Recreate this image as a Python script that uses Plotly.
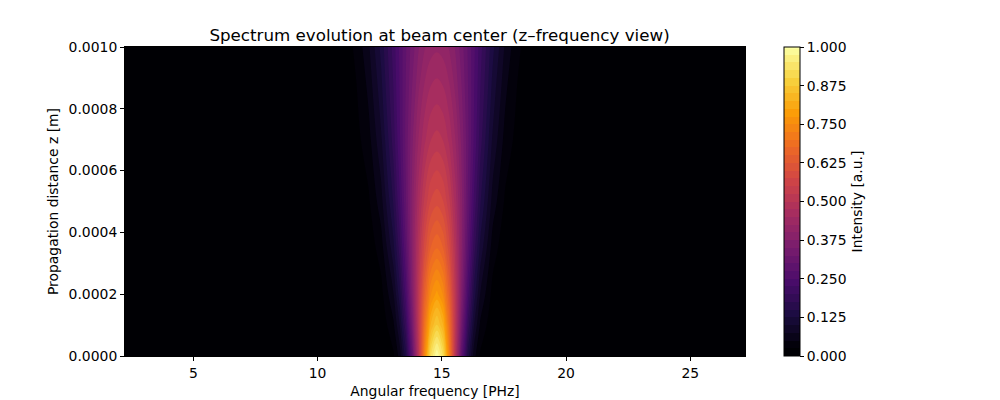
import plotly.graph_objects as go

# angular frequency samples [PHz] (spectrum centred near 14.8)
omega = [2.25, 10.55, 11.05, 11.55, 12.05, 12.55, 13.05, 13.3, 13.55, 13.8, 14.05, 14.3, 14.55,
         14.8, 15.05, 15.3, 15.55, 15.8, 16.05, 16.3, 16.55, 17.05, 17.55, 18.05, 18.55, 19.05, 27.2]

# propagation distance samples [m]
z_pos = [0.0, 0.0001, 0.0002, 0.00035, 0.0005, 0.0007, 0.001]

# intensity, one row per z sample
row_z000 = [0, 0, 0, 0, 0, 0.002, 0.021, 0.059, 0.140, 0.284, 0.492, 0.730, 0.924, 1.0,
            0.924, 0.730, 0.492, 0.284, 0.140, 0.059, 0.021, 0.002, 0, 0, 0, 0, 0]
row_z010 = [0, 0, 0, 0, 0.001, 0.006, 0.045, 0.099, 0.192, 0.332, 0.509, 0.689, 0.827, 0.879,
            0.827, 0.689, 0.509, 0.332, 0.192, 0.099, 0.045, 0.006, 0.001, 0, 0, 0, 0]
row_z020 = [0, 0, 0, 0, 0.002, 0.016, 0.073, 0.138, 0.234, 0.362, 0.507, 0.646, 0.747, 0.784,
            0.747, 0.646, 0.507, 0.362, 0.234, 0.138, 0.073, 0.016, 0.002, 0, 0, 0, 0]
row_z035 = [0, 0, 0, 0.002, 0.009, 0.037, 0.117, 0.186, 0.275, 0.380, 0.488, 0.584, 0.650, 0.674,
            0.650, 0.584, 0.488, 0.380, 0.275, 0.186, 0.117, 0.037, 0.009, 0.002, 0, 0, 0]
row_z050 = [0, 0, 0.001, 0.006, 0.021, 0.064, 0.153, 0.220, 0.297, 0.381, 0.462, 0.530, 0.576, 0.592,
            0.576, 0.530, 0.462, 0.381, 0.297, 0.220, 0.153, 0.064, 0.021, 0.006, 0.001, 0, 0]
row_z070 = [0, 0.001, 0.005, 0.016, 0.040, 0.095, 0.186, 0.245, 0.306, 0.367, 0.424, 0.469, 0.499, 0.509,
            0.499, 0.469, 0.424, 0.367, 0.306, 0.245, 0.186, 0.095, 0.040, 0.016, 0.005, 0.001, 0]
row_z100 = [0, 0.004, 0.012, 0.030, 0.070, 0.132, 0.211, 0.255, 0.297, 0.336, 0.371, 0.397, 0.414, 0.420,
            0.414, 0.397, 0.371, 0.336, 0.297, 0.255, 0.211, 0.132, 0.070, 0.030, 0.012, 0.004, 0]

intensity = [row_z000, row_z010, row_z020, row_z035, row_z050, row_z070, row_z100]

font = dict(family="DejaVu Sans", size=13.9, color="black")

fig = go.Figure(go.Contour(
    x=omega,
    y=z_pos,
    z=intensity,
    colorscale="Inferno",
    zmin=0, zmax=1,
    # lowest line at 0.025 so everything under it shares the darkest colour
    contours=dict(start=0.025, end=1, size=0.025, coloring="fill", showlines=False),
    line=dict(width=0),
    colorbar=dict(
        title=dict(text="Intensity [a.u.]", side="right", font=font),
        tickmode="array",
        tickvals=[0, 0.125, 0.25, 0.375, 0.5, 0.625, 0.75, 0.875, 1.0],
        tickformat=".3f",
        ticks="outside", ticklen=4, tickcolor="black", tickfont=font,
        thickness=16, thicknessmode="pixels", len=1, lenmode="fraction",
        y=0.5, yanchor="middle", x=1.063, xanchor="left", xpad=0, ypad=0,
        outlinewidth=1, outlinecolor="black",
    ),
))

# the page puts the figure 8px in from the top-left corner, so it is drawn 8px smaller
fig.update_layout(
    width=992, height=392,
    margin=dict(l=117, r=255, t=39, b=44, autoexpand=False),
    paper_bgcolor="white", plot_bgcolor="white",
    font=font,
    title=dict(text="Spectrum evolution at beam center (z\u2013frequency view)",
               x=0.435, xanchor="center", y=0.932, yanchor="middle",
               font=dict(family="DejaVu Sans", size=16.7, color="black")),
)
fig.update_xaxes(
    range=[2.25, 27.2], tickvals=[5, 10, 15, 20, 25], tickfont=font,
    title=dict(text="Angular frequency [PHz]", standoff=6, font=font),
    showline=True, mirror=True, linecolor="black", linewidth=1, automargin=False,
    ticks="outside", ticklen=4, tickcolor="black", showgrid=False, zeroline=False,
)
fig.update_yaxes(
    range=[0, 0.001], tick0=0, dtick=0.0002, tickformat=".4f", tickfont=font,
    title=dict(text="Propagation distance z [m]", standoff=6, font=font),
    showline=True, mirror=True, linecolor="black", linewidth=1, automargin=False,
    ticks="outside", ticklen=4, tickcolor="black", showgrid=False, zeroline=False,
)

fig.write_html("out.html")
